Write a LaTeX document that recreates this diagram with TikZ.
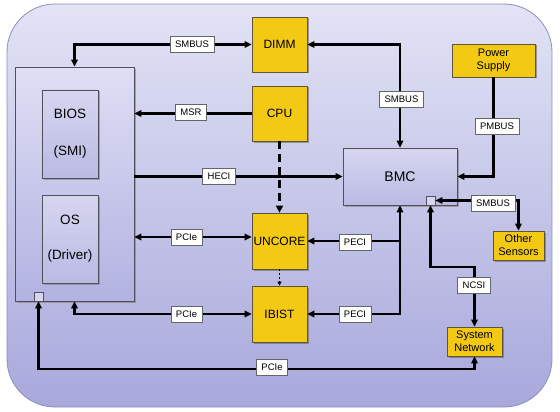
\documentclass[tikz,border=0pt]{standalone}
\usepackage{fontspec}
\setmainfont{Liberation Sans}
\usetikzlibrary{arrows.meta,shadows}
\definecolor{bgtop}{RGB}{226,227,245}
\definecolor{bgbot}{RGB}{168,168,220}
\definecolor{bgline}{RGB}{140,140,190}
\definecolor{ylw}{RGB}{243,201,20}
\definecolor{ylwline}{RGB}{90,85,60}
\definecolor{pantop}{RGB}{222,222,244}
\definecolor{panbot}{RGB}{178,178,226}
\definecolor{boxtop}{RGB}{214,214,240}
\definecolor{boxbot}{RGB}{186,186,228}
\definecolor{edge}{RGB}{80,80,90}
\begin{document}
\begin{tikzpicture}[x=1pt,y=-1pt,
  >={Triangle[length=7pt,width=6.5pt]},
  conn/.style={line width=2.2pt,black},
  ybox/.style={draw=ylwline,line width=0.7pt,fill=ylw,inner sep=1pt,align=center,
     drop shadow={shadow xshift=1.5pt,shadow yshift=-1.5pt,fill=black!60,opacity=.6}},
  ytext/.style={font=\fontsize{12}{13}\selectfont},
  panelbox/.style={draw=edge,line width=0.7pt,top color=pantop,bottom color=panbot,
     drop shadow={shadow xshift=2pt,shadow yshift=-2pt,fill=black!50,opacity=.6}},
  innerbox/.style={draw=edge,line width=0.7pt,top color=boxtop,bottom color=boxbot,align=center,
     font=\fontsize{13.5}{16}\selectfont,
     drop shadow={shadow xshift=1.5pt,shadow yshift=-1.5pt,fill=black!50,opacity=.6}},
  sq/.style={draw=edge,line width=0.6pt,fill=boxtop,minimum width=9,minimum height=9,inner sep=0pt},
  lab/.style={draw=black!60,line width=0.7pt,fill=white,font=\fontsize{9.5}{10}\selectfont,
     minimum height=16,inner xsep=5pt,inner ysep=0pt}]
\useasboundingbox (0,0) rectangle (560,412);
\draw[bgline,line width=0.8pt,top color=bgtop,bottom color=bgbot,rounded corners=48pt]
  (7,4) rectangle (552,407);

% main nodes
\node[panelbox,minimum width=119,minimum height=234] (panel) at (74.5,184) {};
\node[innerbox,minimum width=56,minimum height=88] (bios) at (70,134) {BIOS\\[21pt](SMI)};
\node[innerbox,minimum width=56,minimum height=88] (os) at (70,239) {OS\\[19pt](Driver)};
\node[sq] (psq) at (38.5,296.5) {};
\node[ybox,ytext,minimum width=55,minimum height=55] (dimm) at (279.5,44.5) {DIMM};
\node[ybox,ytext,minimum width=55,minimum height=55] (cpu) at (279.5,113.5) {CPU};
\node[ybox,ytext,minimum width=55,minimum height=56] (uncore) at (279.5,241) {UNCORE};
\node[ybox,ytext,minimum width=55,minimum height=56] (ibist) at (279.5,314) {IBIST};
\node[innerbox,font=\fontsize{14}{16}\selectfont,minimum width=114,minimum height=57] (bmc) at (400,176.5) {BMC};
\node[sq] (bsq) at (430.5,200.5) {};
\node[ybox,font=\fontsize{11}{13}\selectfont,minimum width=83,minimum height=33] (ps) at (493.5,60.5) {Power\\Supply};
\node[ybox,font=\fontsize{11}{13}\selectfont,minimum width=51,minimum height=29] (others) at (518.5,245.5) {Other\\Sensors};
\node[ybox,font=\fontsize{11}{13}\selectfont,minimum width=55,minimum height=29] (sysnet) at (474.5,341.5) {System\\Network};
\coordinate (ncor) at (0,267);
\coordinate (pcor) at (0,369);

% connectors
\draw[conn,<->] (panel.north) |- (dimm.west);
\draw[conn,<->] (dimm.east) -| (bmc.north);
\draw[conn,->] (cpu.west) -- (cpu.west -| panel.east);
\draw[conn,->] (bmc.west -| panel.east) -- (bmc.west);
\draw[line width=2.6pt,dash pattern=on 8pt off 5pt,-{Triangle[length=7pt,width=7pt]}] (cpu.south) -- (uncore.north);
\draw[line width=0.8pt,dash pattern=on 2pt off 2pt,-{Triangle[length=4pt,width=4pt]}] (uncore.south) -- (ibist.north);
\draw[conn,<->] ([yshift=4pt]uncore.west -| panel.east) -- ([yshift=4pt]uncore.west);
\draw[conn,<->] (panel.south) |- (ibist.west);
\draw[conn,<->] (bmc.south) |- (ibist.east);
\draw[conn,->] (bmc.south |- uncore.east) -- (uncore.east);
\draw[conn,<->] (bsq.east) -| (others.north);
\draw[conn,->] (ps.south) |- (bmc.east);
\draw[conn,<->] (bsq.south) -- (bsq.south |- ncor) -| (sysnet.north);
\draw[conn,<->] (psq.south) -- (psq.south |- pcor) -| (sysnet.south);

% labels
\node[lab] (l1) at (192,44) {SMBUS};
\node[lab] (l2) at (401.5,99) {SMBUS};
\node[lab] (l3) at (191,112.5) {MSR};
\node[lab] (l4) at (219,176) {HECI};
\node[lab] (l5) at (186.5,237) {PCIe};
\node[lab] (l6) at (186.5,314) {PCIe};
\node[lab] (l7) at (355,242) {PECI};
\node[lab] (l8) at (355,314.5) {PECI};
\node[lab] (l9) at (493,203.5) {SMBUS};
\node[lab] (l10) at (497,126) {PMBUS};
\node[lab] (l11) at (474,285.5) {NCSI};
\node[lab] (l12) at (272,367.5) {PCIe};
\end{tikzpicture}
\end{document}
